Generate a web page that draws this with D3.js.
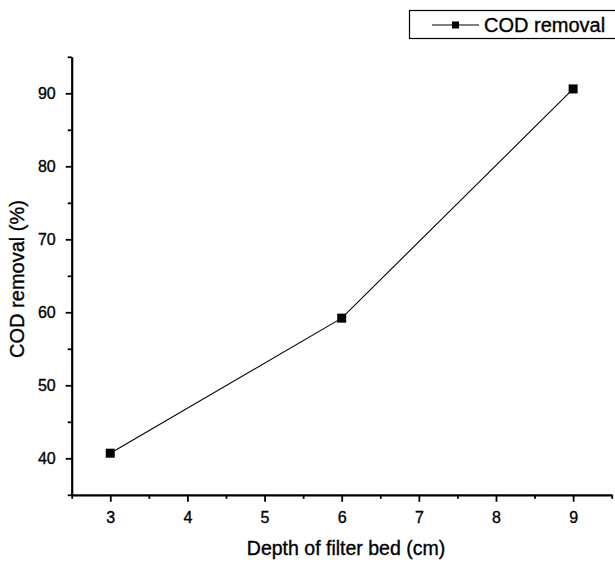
<!DOCTYPE html>
<html>
<head>
<meta charset="utf-8">
<script src="https://cdn.jsdelivr.net/npm/d3@7"></script>
<style>
  body { margin: 0; background: #fff; }
  svg { display: block; font-family: "Liberation Sans", Arial, sans-serif; }
  svg text { stroke: #000; stroke-width: 0.35px; }
</style>
</head>
<body>
<div id="chart-container"></div>
<script>
// depth of filter bed (cm) vs COD removal (%)
const depths = [3, 6, 9];
const codRemoval = [40.7, 59.2, 90.6];
const xTicks = [3, 4, 5, 6, 7, 8, 9];
const xMinorTicks = [2.5, 3.5, 4.5, 5.5, 6.5, 7.5, 8.5, 9.5];
const yTicks = [40, 50, 60, 70, 80, 90];
const yMinorTicks = [35, 45, 55, 65, 75, 85, 95];
const seriesName = "COD removal";

const width = 615;
const height = 563;

const xScale = d3.scaleLinear().domain([2.5, 9.5]).range([71.7, 611.7]);
const yScale = d3.scaleLinear().domain([35, 95]).range([494.8, 56.8]);

const svg = d3
  .select("#chart-container")
  .append("svg")
  .attr("width", width)
  .attr("height", height);

// minor ticks first, then major axes over them
svg
  .append("g")
  .attr("transform", "translate(0," + yScale(35) + ")")
  .call(d3.axisBottom(xScale).tickValues(xMinorTicks).tickSize(4).tickSizeOuter(0).tickFormat(""))
  .call(g => g.select(".domain").remove());

svg
  .append("g")
  .attr("transform", "translate(" + xScale(2.5) + ",0)")
  .call(d3.axisLeft(yScale).tickValues(yMinorTicks).tickSize(4).tickSizeOuter(0).tickFormat(""))
  .call(g => g.select(".domain").remove());

const xAxis = svg
  .append("g")
  .attr("transform", "translate(0," + yScale(35) + ")")
  .call(
    d3.axisBottom(xScale).tickValues(xTicks).tickFormat(d3.format("d"))
      .tickSize(7).tickSizeOuter(0).tickPadding(10)
  );

const yAxis = svg
  .append("g")
  .attr("transform", "translate(" + xScale(2.5) + ",0)")
  .call(
    d3.axisLeft(yScale).tickValues(yTicks).tickFormat(d3.format("d"))
      .tickSize(6).tickSizeOuter(0).tickPadding(10)
  );

[xAxis, yAxis].forEach(a => {
  a.select(".domain").attr("stroke-width", 2.2).attr("stroke", "#000");
  a.selectAll("text")
    .attr("font-size", "16px")
    .attr("fill", "#000")
    .attr("font-family", "Liberation Sans, Arial, sans-serif");
});
svg.selectAll(".tick line").attr("stroke-width", 1.8).attr("stroke", "#000");

// axis titles
svg
  .append("text")
  .attr("x", 346)
  .attr("y", 555)
  .attr("text-anchor", "middle")
  .attr("font-size", "19.5px")
  .text("Depth of filter bed (cm)");

svg
  .append("text")
  .attr("transform", "translate(24,279)rotate(-90)")
  .attr("text-anchor", "middle")
  .attr("font-size", "20px")
  .text("COD removal (%)");

// data line + markers
const points = depths.map((d, i) => [d, codRemoval[i]]);
const line = d3.line().x(d => xScale(d[0])).y(d => yScale(d[1]));

svg
  .append("path")
  .datum(points)
  .attr("fill", "none")
  .attr("stroke", "#000")
  .attr("stroke-width", 1.1)
  .attr("d", line);

svg
  .selectAll(".marker")
  .data(points)
  .enter()
  .append("rect")
  .attr("class", "marker")
  .attr("x", d => xScale(d[0]) - 4.5)
  .attr("y", d => yScale(d[1]) - 4.5)
  .attr("width", 9)
  .attr("height", 9)
  .attr("fill", "#000");

// legend
const legend = svg.append("g").attr("transform", "translate(409,10)");
legend
  .append("rect")
  .attr("x", 0.5)
  .attr("y", 0.5)
  .attr("width", 220)
  .attr("height", 28)
  .attr("fill", "#fff")
  .attr("stroke", "#000")
  .attr("stroke-width", 1.2);
legend
  .append("line")
  .attr("x1", 23)
  .attr("x2", 70)
  .attr("y1", 15)
  .attr("y2", 15)
  .attr("stroke", "#000")
  .attr("stroke-width", 1.1);
legend
  .append("rect")
  .attr("x", 43)
  .attr("y", 11.5)
  .attr("width", 7)
  .attr("height", 7)
  .attr("fill", "#000");
legend
  .append("text")
  .attr("x", 75)
  .attr("y", 22)
  .attr("font-size", "20px")
  .text(seriesName);
</script>
</body>
</html>
